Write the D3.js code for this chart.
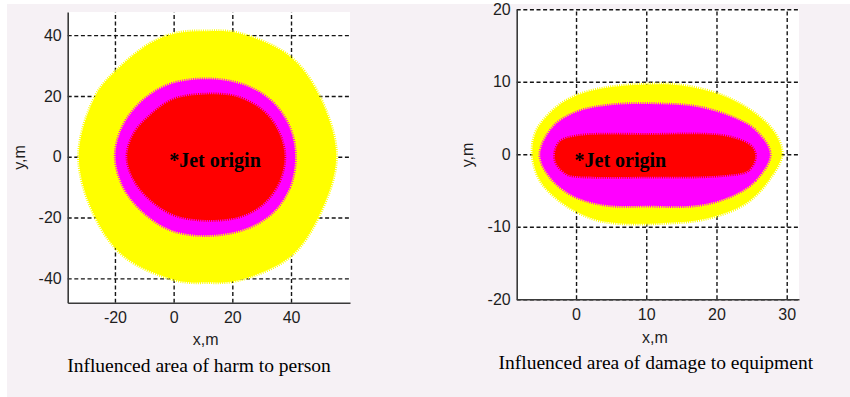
<!DOCTYPE html>
<html>
<head>
<meta charset="utf-8">
<script src="https://cdn.jsdelivr.net/npm/d3@7"></script>
<style>
  html, body { margin: 0; padding: 0; background: #ffffff; }
  svg { display: block; }
</style>
</head>
<body>
<div id="chart"></div>
<script>
// Influenced areas of a jet fire, two panels

// tick values
const personTicksX = [-20, 0, 20, 40];
const personTicksY = [-40, -20, 0, 20, 40];
const equipTicksX = [0, 10, 20, 30];
const equipTicksY = [-20, -10, 0, 10, 20];

// zone outlines, [x, y] in metres
const personYellow = [[55.4, 0], [49.2, -20], [39.5, -33], [22, -40.6], [11.5, -41.3], [1, -40.6], [-16.5, -33],
  [-26.6, -20], [-32.3, 0], [-26.6, 20], [-19.3, 28.5], [-8, 37.2], [1, 40.6], [11.5, 41.3], [22, 40.6], [39.5, 33], [49.6, 20]];
const personMagenta = [[41.4, 0], [39.5, -10], [33.5, -18.5], [24, -23.8], [11, -25.8], [-1, -24], [-10.5, -18], [-17, -10],
  [-19.8, 0], [-17.5, 9.5], [-11.5, 17.5], [-2, 23.5], [11, 25.5], [24, 23.5], [33.5, 18], [39.5, 9.5]];
const personRed = [[37.8, 0], [36, -8], [31, -15], [23, -19.5], [11, -20.8], [0, -19], [-8, -14], [-13.5, -7.5],
  [-15.8, 0], [-13.5, 7.5], [-8, 13.5], [0, 18.8], [11, 20.5], [22, 19.5], [31, 14.5], [36, 7.5]];

const equipYellow = [[29.3, 0], [27.4, -3.6], [24.1, -6.8], [18.4, -8.9], [12, -9.5], [6, -9.5], [2.5, -8.9], [-1.8, -6.8],
  [-5.1, -3.6], [-6.2, 0], [-5.6, 3.3], [-2.75, 6.5], [0.1, 8.1], [3.9, 9.1], [9, 9.6], [15, 9.5], [20.8, 8.1], [25.5, 5.6], [28.3, 2.9]];
const equipMagenta = [[27.6, 0], [25.5, -3.6], [22.2, -5.7], [17.4, -7.0], [10, -7.1], [4.4, -7], [-0.4, -5.7], [-3.7, -3.1],
  [-5.1, 0], [-3.2, 3.8], [0.1, 5.8], [5.3, 6.8], [12, 6.9], [17.4, 6.5], [22.2, 5.1], [25.5, 3.3]];
const equipRed = [[25.5, -0.4], [24.5, -2.2], [20.8, -2.9], [10, -3.1], [0, -3.0], [-1.3, -2.7], [-2.75, -1.3], [-3, 0],
  [-2.3, 1.7], [0.1, 2.5], [10, 2.7], [21.7, 2.4], [25, 1.0]];

const zoneColors = ['#ffff00', '#ff00ff', '#ff0000'];
const captions = ['Influenced area of harm to person', 'Influenced area of damage to equipment'];
const originLabel = '*Jet origin';

const width = 850;
const height = 397;

const panels = [
  {
    xDomain: [-36.1, 60.1], yDomain: [-48, 47.6],
    box: { left: 67.7, top: 12, right: 350, bottom: 302.7 },
    xTicks: personTicksX, yTicks: personTicksY,
    zones: [personYellow, personMagenta, personRed],
    caption: captions[0], captionX: 199, captionY: 371.5,
    xLabelX: 205.7, xLabelY: 345, yLabelX: 24.5, yLabelY: 157.5,
    labelDx: -4.5, labelDy: 10.5
  },
  {
    xDomain: [-8.45, 31.75], yDomain: [-20, 20],
    box: { left: 516.7, top: 9.3, right: 799, bottom: 299.3 },
    xTicks: equipTicksX, yTicks: equipTicksY,
    zones: [equipYellow, equipMagenta, equipRed],
    caption: captions[1], captionX: 655.8, captionY: 368.5,
    xLabelX: 655, xLabelY: 343, yLabelX: 473, yLabelY: 155,
    labelDx: -1.5, labelDy: 12.5
  }
];

const svg = d3.select('#chart')
  .append('svg')
  .attr('width', width)
  .attr('height', height);

// page background
svg.append('rect')
  .attr('x', 7).attr('y', 4)
  .attr('width', width - 7).attr('height', height - 4)
  .attr('fill', '#f6f1f5');

// plain hyphen minus, like the original
const plainNumber = d => String(d);

function drawPanel(p) {
  const b = p.box;
  const x = d3.scaleLinear().domain(p.xDomain).range([b.left, b.right]);
  const y = d3.scaleLinear().domain(p.yDomain).range([b.bottom, b.top]);
  const g = svg.append('g');

  // plot area
  g.append('rect')
    .attr('x', b.left).attr('y', b.top)
    .attr('width', b.right - b.left).attr('height', b.bottom - b.top)
    .attr('fill', '#ffffff');

  // dashed grid
  const gridX = g.append('g')
    .attr('transform', `translate(0,${b.bottom})`)
    .call(d3.axisBottom(x).tickValues(p.xTicks).tickSize(-(b.bottom - b.top)).tickFormat(''));
  const gridY = g.append('g')
    .attr('transform', `translate(${b.left},0)`)
    .call(d3.axisLeft(y).tickValues(p.yTicks).tickSize(-(b.right - b.left)).tickFormat(''));
  [gridX, gridY].forEach(gr => {
    gr.select('.domain').remove();
    gr.selectAll('line')
      .attr('stroke', '#151515')
      .attr('stroke-width', 1.4)
      .attr('stroke-dasharray', '4,2.6');
  });

  // zones, outer first
  const outline = d3.line()
    .x(d => x(d[0]))
    .y(d => y(d[1]))
    .curve(d3.curveCatmullRomClosed.alpha(0.5));

  p.zones.forEach((zone, i) => {
    g.append('path')
      .attr('d', outline(zone))
      .attr('fill', zoneColors[i])
      .attr('stroke', zoneColors[i])
      .attr('stroke-width', 3.5)
      .attr('stroke-dasharray', '1,1.2');
  });

  // origin label
  g.append('text')
    .attr('x', x(0) + p.labelDx)
    .attr('y', y(0) + p.labelDy)
    .attr('font-family', '"Liberation Serif", "Times New Roman", serif')
    .attr('font-weight', 'bold')
    .attr('font-size', 20)
    .attr('fill', '#000')
    .text(originLabel);

  // axes with tick labels
  const xAxis = g.append('g')
    .attr('transform', `translate(0,${b.bottom})`)
    .call(d3.axisBottom(x).tickValues(p.xTicks).tickFormat(plainNumber)
      .tickSize(0).tickSizeOuter(0).tickPadding(9));
  const yAxis = g.append('g')
    .attr('transform', `translate(${b.left},0)`)
    .call(d3.axisLeft(y).tickValues(p.yTicks).tickFormat(plainNumber)
      .tickSize(0).tickSizeOuter(0).tickPadding(6));
  [xAxis, yAxis].forEach(ax => {
    ax.select('.domain').attr('stroke', '#3a3a3a').attr('stroke-width', 1.6);
    ax.selectAll('text')
      .attr('font-family', '"Liberation Sans", Arial, sans-serif')
      .attr('font-size', 16)
      .attr('fill', '#1e1e1e');
  });

  // axis titles
  g.append('text')
    .attr('x', p.xLabelX).attr('y', p.xLabelY)
    .attr('text-anchor', 'middle')
    .attr('font-family', '"Liberation Sans", Arial, sans-serif')
    .attr('font-size', 16)
    .attr('fill', '#1e1e1e')
    .text('x,m');
  g.append('text')
    .attr('transform', `translate(${p.yLabelX},${p.yLabelY}) rotate(-90)`)
    .attr('text-anchor', 'middle')
    .attr('font-family', '"Liberation Sans", Arial, sans-serif')
    .attr('font-size', 16)
    .attr('fill', '#1e1e1e')
    .text('y,m');

  // caption under the panel
  g.append('text')
    .attr('x', p.captionX).attr('y', p.captionY)
    .attr('text-anchor', 'middle')
    .attr('font-family', '"Liberation Serif", "Times New Roman", serif')
    .attr('font-size', 19.5)
    .attr('fill', '#000')
    .text(p.caption);
}

panels.forEach(drawPanel);
</script>
</body>
</html>
